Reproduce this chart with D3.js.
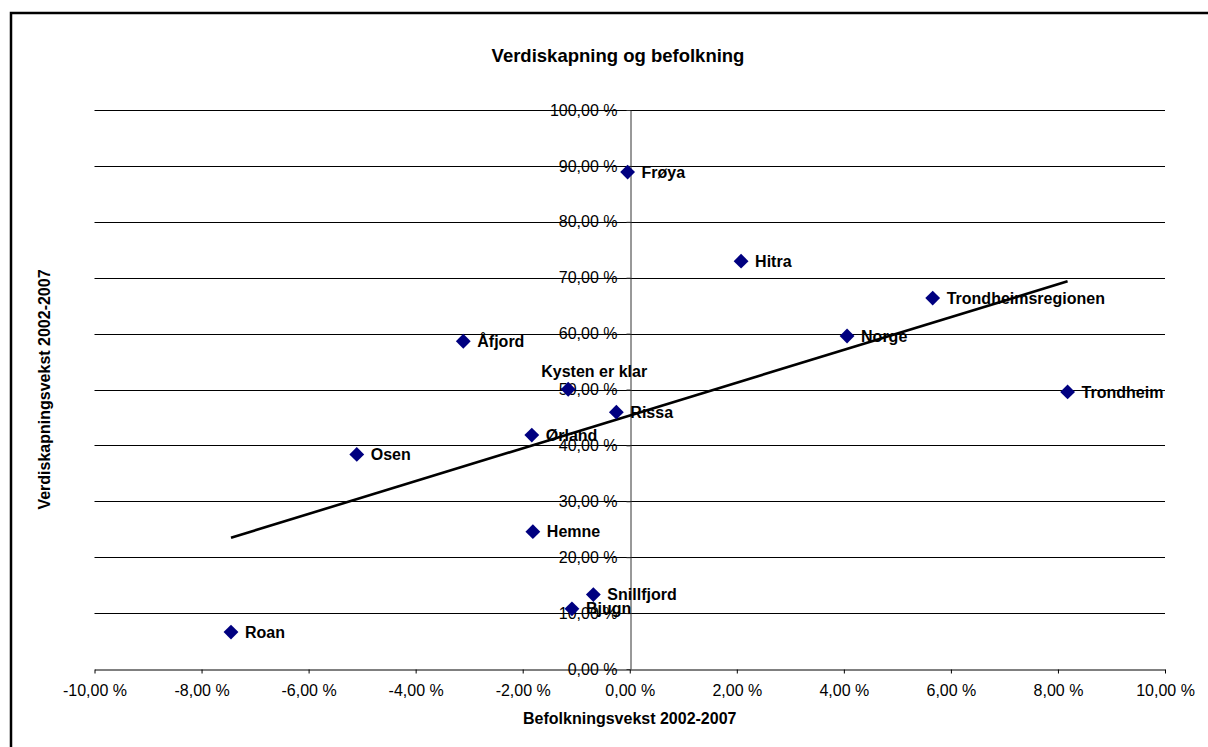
<!DOCTYPE html>
<html>
<head>
<meta charset="utf-8">
<script src="https://cdn.jsdelivr.net/npm/d3@7"></script>
<style>
  html, body { margin: 0; padding: 0; background: #fff; }
  svg { display: block; font-family: "Liberation Sans", Arial, sans-serif; }
</style>
</head>
<body>
<svg id="chart" width="1208" height="747"></svg>
<script>
// ---- Data ----
const names = ["Frøya", "Hitra", "Trondheimsregionen", "Norge", "Trondheim", "Åfjord",
  "Kysten er klar", "Rissa", "Ørland", "Osen", "Hemne", "Snillfjord", "Bjugn", "Roan"];
const popGrowth = [-0.04, 2.08, 5.66, 4.06, 8.18, -3.11, -1.15, -0.25, -1.83, -5.10, -1.81, -0.68, -1.08, -7.45];
const valueGrowth = [88.9, 72.96, 66.36, 59.57, 49.57, 58.63, 50.05, 45.95, 41.84, 38.39, 24.57, 13.32, 10.77, 6.61];
const xTicks = [-10, -8, -6, -4, -2, 0, 2, 4, 6, 8, 10];
const yTicks = [0, 10, 20, 30, 40, 50, 60, 70, 80, 90, 100];
const titleText = "Verdiskapning og befolkning";
const xTitle = "Befolkningsvekst 2002-2007";
const yTitle = "Verdiskapningsvekst 2002-2007";

const fmt = d => d.toFixed(2).replace(".", ",") + " %";

const svg = d3.select("#chart");

// chart frame
svg.append("rect").attr("x", 11).attr("y", 13).attr("width", 1250).attr("height", 800)
  .attr("fill", "#fff").attr("stroke", "#000").attr("stroke-width", 2.5);

const x = d3.scaleLinear().domain([-10, 10]).range([94.5, 1165]);
const y = d3.scaleLinear().domain([0, 100]).range([669, 110]);

// title
svg.append("text").attr("x", 618).attr("y", 62).attr("text-anchor", "middle")
  .attr("font-size", 18.5).attr("font-weight", "bold").text(titleText);

// gridlines
svg.append("g").selectAll("line").data(yTicks.filter(d => d > 0)).join("line")
  .attr("x1", x(-10)).attr("x2", x(10))
  .attr("y1", d => Math.round(y(d)) + 0.5).attr("y2", d => Math.round(y(d)) + 0.5)
  .attr("stroke", "#000").attr("stroke-width", 1);

// x axis
const xAxis = svg.append("g").attr("transform", `translate(0,${Math.round(y(0)) + 0.5})`)
  .call(d3.axisBottom(x).tickValues(xTicks).tickFormat(fmt).tickSize(4).tickSizeOuter(0).tickPadding(11));
xAxis.selectAll("text").attr("font-size", 16).attr("fill", "#000").attr("font-family", "Liberation Sans, Arial, sans-serif");
xAxis.selectAll("line, path").attr("stroke", "#000");

// y axis
const yAxis = svg.append("g").attr("transform", `translate(${Math.round(x(0)) + 0.5},0)`)
  .call(d3.axisLeft(y).tickValues(yTicks).tickFormat(fmt).tickSize(4).tickSizeOuter(0).tickPadding(9));
yAxis.selectAll("text").attr("font-size", 16).attr("fill", "#000").attr("font-family", "Liberation Sans, Arial, sans-serif");
yAxis.selectAll("line, path").attr("stroke", "#333");

// axis titles
svg.append("text").attr("x", (x(-10) + x(10)) / 2).attr("y", 724).attr("text-anchor", "middle")
  .attr("font-size", 16).attr("font-weight", "bold").text(xTitle);
svg.append("text").attr("transform", `translate(50,${(y(0) + y(100)) / 2}) rotate(-90)`)
  .attr("text-anchor", "middle").attr("font-size", 16).attr("font-weight", "bold").text(yTitle);

// trendline (least squares)
const n = popGrowth.length;
const mx = d3.mean(popGrowth), my = d3.mean(valueGrowth);
let sxy = 0, sxx = 0;
for (let i = 0; i < n; i++) { sxy += (popGrowth[i] - mx) * (valueGrowth[i] - my); sxx += (popGrowth[i] - mx) ** 2; }
const slope = sxy / sxx, icpt = my - slope * mx;
const [xmin, xmax] = d3.extent(popGrowth);
svg.append("path")
  .attr("d", d3.line().x(d => x(d)).y(d => y(icpt + slope * d))([xmin, xmax]))
  .attr("stroke", "#000").attr("stroke-width", 2.6).attr("fill", "none");

// markers
const pts = names.map((nm, i) => ({ name: nm, px: popGrowth[i], vy: valueGrowth[i] }));
const diamond = d3.symbol().type(d3.symbolSquare).size(110);
svg.append("g").selectAll("path").data(pts).join("path")
  .attr("d", diamond)
  .attr("transform", d => `translate(${x(d.px)},${y(d.vy)}) rotate(45)`)
  .attr("fill", "#000080");

// data labels
svg.append("g").selectAll("text").data(pts).join("text")
  .attr("x", d => d.name === "Kysten er klar" ? x(d.px) + 26 : x(d.px) + 14)
  .attr("y", d => d.name === "Kysten er klar" ? y(d.vy) - 12 : y(d.vy) + 5.7)
  .attr("text-anchor", d => d.name === "Kysten er klar" ? "middle" : "start")
  .attr("font-size", 16).attr("font-weight", "bold").attr("fill", "#000")
  .text(d => d.name);
</script>
</body>
</html>
